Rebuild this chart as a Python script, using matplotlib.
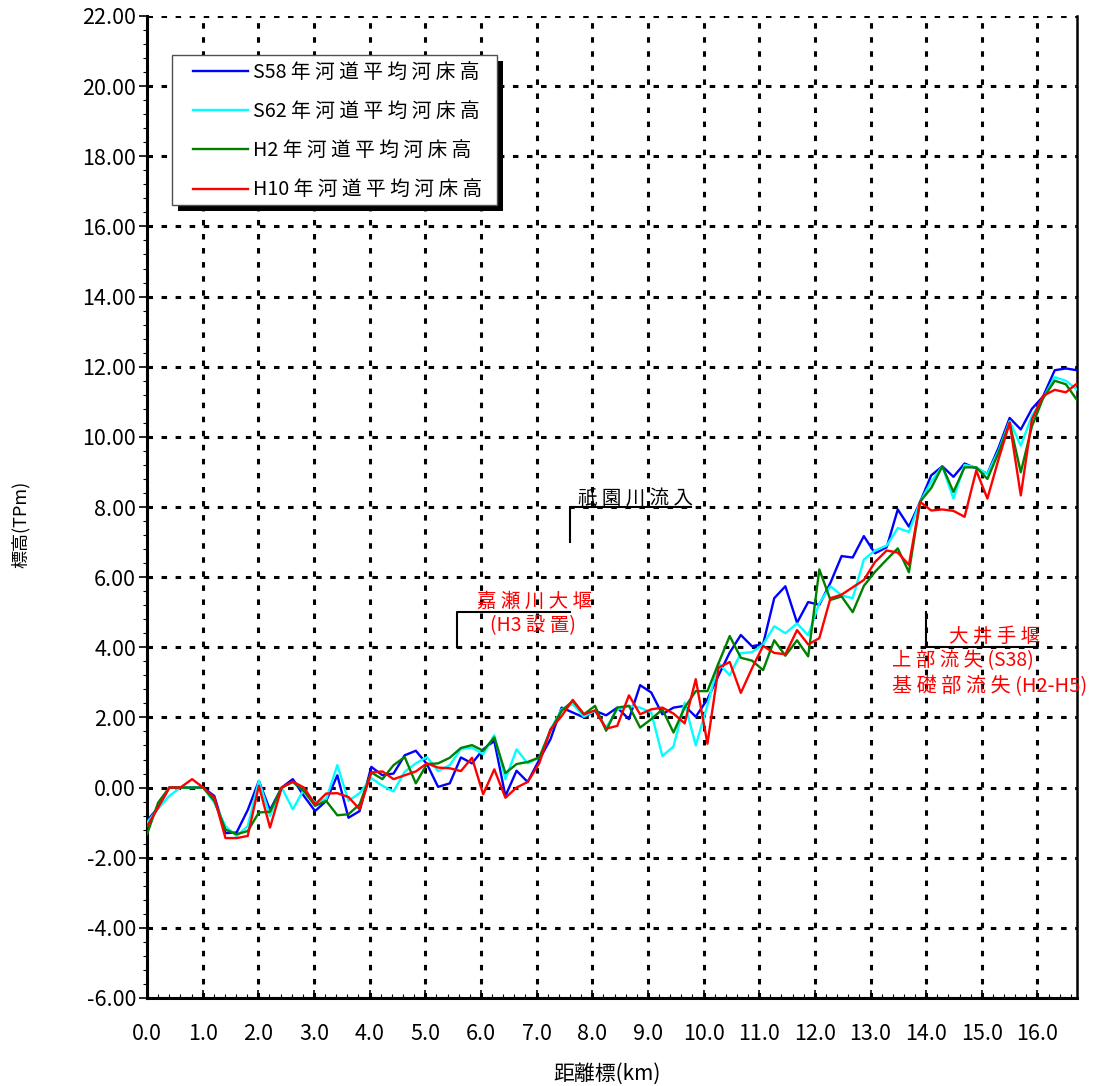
import matplotlib
matplotlib.use('Agg')
import matplotlib.pyplot as plt
from matplotlib.ticker import MultipleLocator
from matplotlib.patches import Rectangle

plt.rcParams['font.family'] = ['Noto Sans CJK JP', 'DejaVu Sans']

# ---------------- data ----------------
dist_km = [0.00, 0.20, 0.40, 0.60, 0.81, 1.01, 1.21, 1.41, 1.61, 1.81,
           2.01, 2.21, 2.42, 2.62, 2.82, 3.02, 3.22, 3.42, 3.62, 3.82,
           4.03, 4.23, 4.43, 4.63, 4.83, 5.03, 5.23, 5.44, 5.64, 5.84,
           6.04, 6.24, 6.44, 6.64, 6.84, 7.05, 7.25, 7.45, 7.65, 7.85,
           8.05, 8.25, 8.45, 8.66, 8.86, 9.06, 9.26, 9.46, 9.66, 9.86,
           10.07, 10.27, 10.47, 10.67, 10.87, 11.07, 11.27, 11.47, 11.68, 11.88,
           12.08, 12.28, 12.48, 12.68, 12.88, 13.08, 13.29, 13.49, 13.69, 13.89,
           14.09, 14.29, 14.49, 14.69, 14.90, 15.10, 15.30, 15.50, 15.70, 15.90,
           16.10, 16.31, 16.51, 16.71]

bed_s58 = [-0.95, -0.57, 0.00, 0.00, 0.00, 0.00, -0.24, -1.30, -1.28, -0.64,
           0.19, -0.64, 0.00, 0.24, -0.24, -0.67, -0.38, 0.35, -0.86, -0.67,
           0.59, 0.35, 0.40, 0.92, 1.05, 0.67, 0.02, 0.12, 0.86, 0.69,
           1.09, 1.33, -0.24, 0.48, 0.16, 0.80, 1.38, 2.28, 2.14, 2.00,
           2.19, 2.06, 2.28, 1.95, 2.92, 2.71, 2.09, 2.28, 2.33, 2.02,
           2.52, 3.20, 3.85, 4.35, 4.03, 4.09, 5.40, 5.74, 4.70, 5.29,
           5.21, 5.84, 6.60, 6.56, 7.17, 6.68, 6.85, 7.93, 7.44, 8.14,
           8.90, 9.16, 8.86, 9.24, 9.10, 8.95, 9.69, 10.54, 10.21, 10.80,
           11.15, 11.90, 11.95, 11.90]

bed_s62 = [-1.00, -0.60, -0.24, 0.00, 0.00, 0.00, -0.43, -1.10, -1.38, -1.10,
           0.19, -0.81, 0.00, -0.62, -0.05, -0.43, -0.33, 0.64, -0.38, -0.16,
           0.27, 0.05, -0.11, 0.45, 0.69, 0.87, 0.47, 0.64, 1.10, 1.14,
           0.95, 1.49, 0.24, 1.09, 0.69, 0.86, 1.66, 2.23, 2.38, 2.02,
           2.19, 1.71, 2.23, 2.33, 2.28, 2.14, 0.90, 1.17, 2.42, 1.20,
           2.35, 3.55, 3.20, 3.83, 3.86, 4.08, 4.60, 4.40, 4.68, 4.34,
           5.26, 5.74, 5.48, 5.40, 6.50, 6.76, 6.90, 7.40, 7.29, 8.14,
           8.72, 9.16, 8.24, 9.20, 9.13, 8.94, 9.60, 10.45, 9.75, 10.60,
           11.10, 11.70, 11.60, 11.35]

bed_h2 = [-1.33, -0.43, 0.00, 0.00, 0.00, 0.00, -0.38, -1.20, -1.33, -1.24,
          -0.71, -0.69, 0.00, 0.16, -0.10, -0.52, -0.38, -0.79, -0.76, -0.48,
          0.43, 0.24, 0.64, 0.87, 0.12, 0.67, 0.69, 0.85, 1.13, 1.21,
          1.05, 1.43, 0.41, 0.67, 0.73, 0.86, 1.62, 2.19, 2.47, 2.09,
          2.33, 1.62, 2.28, 2.33, 1.71, 1.95, 2.23, 1.57, 2.28, 2.75,
          2.75, 3.55, 4.32, 3.70, 3.62, 3.35, 4.20, 3.76, 4.20, 3.74,
          6.22, 5.35, 5.45, 5.00, 5.75, 6.15, 6.50, 6.82, 6.14, 8.15,
          8.54, 9.16, 8.43, 9.13, 9.13, 8.80, 9.55, 10.40, 8.99, 10.30,
          11.10, 11.60, 11.50, 11.05]

bed_h10 = [-1.11, -0.57, 0.00, 0.00, 0.24, 0.00, -0.29, -1.44, -1.44, -1.38,
           0.05, -1.14, 0.00, 0.17, 0.00, -0.48, -0.17, -0.16, -0.27, -0.62,
           0.43, 0.46, 0.24, 0.35, 0.46, 0.69, 0.57, 0.55, 0.47, 0.85,
           -0.19, 0.52, -0.29, 0.00, 0.16, 0.70, 1.66, 2.04, 2.50, 2.09,
           2.20, 1.68, 1.76, 2.63, 2.09, 2.23, 2.28, 2.11, 1.83, 3.09,
           1.25, 3.42, 3.58, 2.70, 3.40, 4.04, 3.84, 3.80, 4.49, 4.08,
           4.26, 5.40, 5.50, 5.71, 5.92, 6.43, 6.76, 6.70, 6.35, 8.15,
           7.90, 7.93, 7.89, 7.72, 9.04, 8.24, 9.36, 10.40, 8.33, 10.50,
           11.17, 11.34, 11.27, 11.52]

series_labels = ['S58 年 河 道 平 均 河 床 高', 'S62 年 河 道 平 均 河 床 高',
                 'H2 年 河 道 平 均 河 床 高', 'H10 年 河 道 平 均 河 床 高']
series_colors = ['#0000FF', '#00FFFF', '#008000', '#FF0000']

x_ticks = [0, 1, 2, 3, 4, 5, 6, 7, 8, 9, 10, 11, 12, 13, 14, 15, 16]
x_ticklabels = ['0.0', '1.0', '2.0', '3.0', '4.0', '5.0', '6.0', '7.0', '8.0',
                '9.0', '10.0', '11.0', '12.0', '13.0', '14.0', '15.0', '16.0']
y_ticks = [-6, -4, -2, 0, 2, 4, 6, 8, 10, 12, 14, 16, 18, 20, 22]
y_ticklabels = ['-6.00', '-4.00', '-2.00', '0.00', '2.00', '4.00', '6.00', '8.00',
                '10.00', '12.00', '14.00', '16.00', '18.00', '20.00', '22.00']

# annotation brackets (data coords)
gion_x = [7.60, 7.60, 9.78]
gion_y = [7.0, 8.0, 8.0]
kase_x = [5.57, 5.57, 7.60]
kase_y = [4.0, 5.0, 5.0]
oide_x = [14.0, 14.0, 16.0]
oide_y = [5.0, 4.0, 4.0]

# ---------------- figure ----------------
W, H = 1094, 1086
fig = plt.figure(figsize=(W / 100, H / 100), dpi=100)
ax = fig.add_axes([147 / W, 1 - 998 / H, 930 / W, 982 / H])

handles = []
for yv, lab, col in zip([bed_s58, bed_s62, bed_h2, bed_h10], series_labels, series_colors):
    ln, = ax.plot(dist_km, yv, color=col, lw=1.7, label=lab, zorder=3)
    handles.append(ln)

ax.set_xlim(0, 16.71)
ax.set_ylim(-6, 22)
ax.set_xticks(x_ticks)
ax.set_xticklabels(x_ticklabels)
ax.set_yticks(y_ticks)
ax.set_yticklabels(y_ticklabels)
ax.xaxis.set_minor_locator(MultipleLocator(0.2))
ax.yaxis.set_minor_locator(MultipleLocator(0.4))
ax.tick_params(axis='x', which='major', direction='in', length=6, width=1.2,
               labelsize=15.5, pad=18)
ax.tick_params(axis='x', which='minor', direction='in', length=3, width=0.8)
ax.tick_params(axis='y', which='major', direction='out', length=6, width=1.2,
               labelsize=15.5, pad=2)
ax.tick_params(axis='y', which='minor', direction='out', length=3, width=0.8)

ax.grid(True, which='major', color='black', linestyle=(0, (1.8, 2.8)), linewidth=2.2,
        dash_capstyle='butt')
ax.set_axisbelow(True)

for side in ['left', 'bottom']:
    ax.spines[side].set_linewidth(2.2)
ax.spines['right'].set_linewidth(1.8)
ax.spines['top'].set_visible(False)

# annotations
ax.plot(gion_x, gion_y, color='black', lw=1.5, zorder=4)
ax.text(7.75, 8.08, '祇 園 川 流 入', color='black', fontsize=14,
        ha='left', va='baseline', zorder=5)

ax.plot(kase_x, kase_y, color='black', lw=1.5, zorder=4)
ax.text(5.93, 5.15, '嘉 瀬 川 大 堰', color='#FF0000', fontsize=14,
        ha='left', va='baseline', zorder=5)
ax.text(6.16, 4.47, '(H3 設 置)', color='#FF0000', fontsize=14,
        ha='left', va='baseline', zorder=5)

ax.plot(oide_x, oide_y, color='black', lw=1.5, zorder=4)
ax.text(16.05, 4.15, '大 井 手 堰', color='#FF0000', fontsize=14,
        ha='right', va='baseline', zorder=5)
ax.text(13.38, 3.47, '上 部 流 失 (S38)', color='#FF0000', fontsize=14,
        ha='left', va='baseline', zorder=5)
ax.text(13.38, 2.73, '基 礎 部 流 失 (H2-H5)', color='#FF0000', fontsize=14.5,
        ha='left', va='baseline', zorder=5, clip_on=False)

fig.text(21 / W, 1 - 524 / H, '標高(TPm)', rotation=90, fontsize=13,
         ha='center', va='center')
fig.text(607 / W, 1 - 1074 / H, '距離標(km)', fontsize=15,
         ha='center', va='center')

# legend: frame with solid shadow, then entries
box_l, box_t, box_r, box_b = 172, 55, 497, 205
fig.add_artist(Rectangle(((box_l + 6) / W, 1 - (box_b + 6) / H),
                         (box_r - box_l) / W, (box_b - box_t) / H,
                         transform=fig.transFigure, facecolor='black',
                         edgecolor='black', lw=0, zorder=5))
fig.add_artist(Rectangle((box_l / W, 1 - box_b / H),
                         (box_r - box_l) / W, (box_b - box_t) / H,
                         transform=fig.transFigure, facecolor='white',
                         edgecolor='#505050', lw=1.0, zorder=6))
leg = fig.legend(handles, series_labels, loc='upper left',
                 bbox_to_anchor=(193 / W, 1 - 62 / H),
                 bbox_transform=fig.transFigure, fontsize=14.2, frameon=False,
                 borderaxespad=0, borderpad=0, handlelength=2.78,
                 handletextpad=0.25, labelspacing=0.92)
leg.set_zorder(7)

fig.savefig('out.png', dpi=100)
